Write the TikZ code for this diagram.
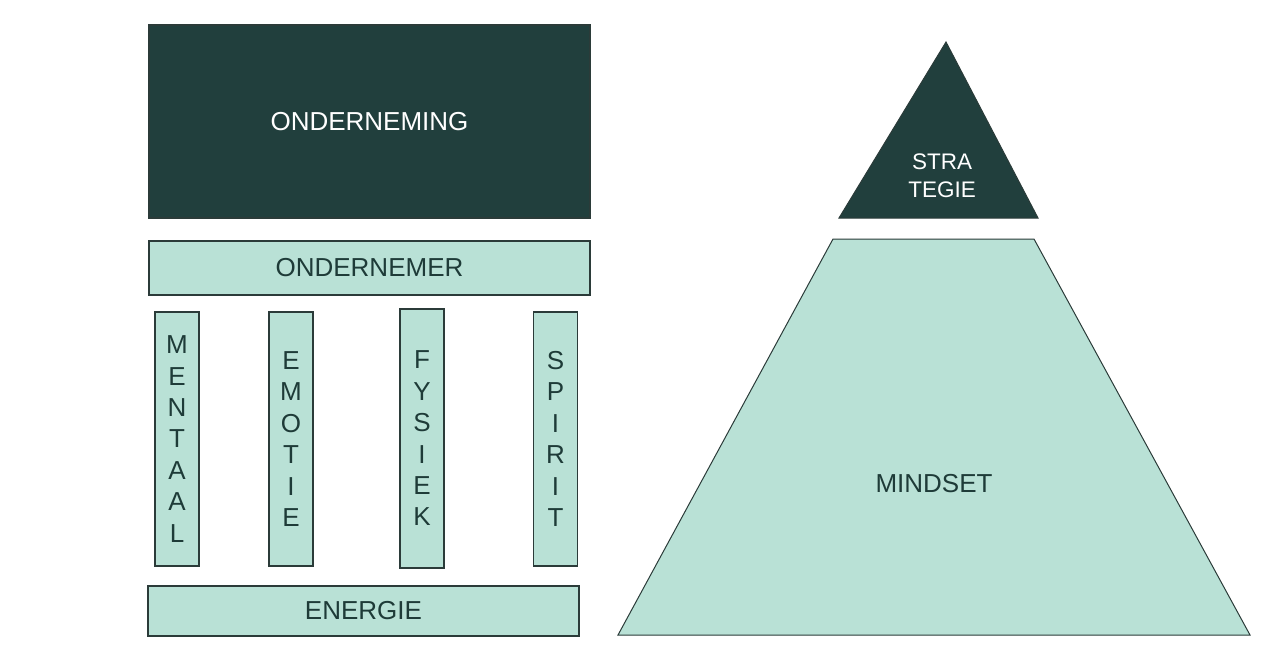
\documentclass[tikz,border=0pt]{standalone}
\usepackage{fontspec}
\setmainfont{Liberation Sans}
\definecolor{donker}{HTML}{213F3D}
\definecolor{mint}{HTML}{B9E1D6}
\definecolor{rand}{HTML}{2B3B39}
\definecolor{tekst}{HTML}{1E3B38}
\tikzset{
  donkerblok/.style={draw=rand,fill=donker,line width=1.2pt,inner sep=0pt,text=white,font=\fontsize{26}{31}\selectfont},
  mintblok/.style={draw=rand,fill=mint,line width=1.2pt,inner sep=0pt,text=tekst,font=\fontsize{26}{31}\selectfont},
  pilaar/.style={mintblok,minimum width=44pt,align=center,font=\fontsize{26}{31.4}\selectfont}
}
\begin{document}
\begin{tikzpicture}[x=1pt,y=-1pt]
\useasboundingbox (0,0) rectangle (1276,670);
% linkerkant: huis
\node[donkerblok,minimum width=441pt,minimum height=193pt] (onderneming) at (369.5,121.5) {ONDERNEMING};
\node[mintblok,minimum width=441pt,minimum height=54pt] (ondernemer) at (369.5,268) {ONDERNEMER};
\foreach \naam/\x/\y/\h/\woord in {mentaal/177/439/254/{M\\E\\N\\T\\A\\A\\L},
    emotie/291/439/254/{E\\M\\O\\T\\I\\E},
    fysiek/422/438.5/259/{F\\Y\\S\\I\\E\\K},
    spirit/555.5/439/254/{S\\P\\I\\R\\I\\T}}
	\node[pilaar,minimum height=\h pt] (\naam) at (\x,\y) {\woord};
\node[mintblok,minimum width=431pt,minimum height=50pt] (energie) at (363.5,611) {ENERGIE};
% rechterkant: piramide
\coordinate[] (T) at (946,42);
\coordinate[] (A) at (839,218);
\coordinate[] (B) at (1038,218);
\coordinate[] (C) at (833,239);
\coordinate[] (D) at (1034,239);
\coordinate[] (E) at (1250,635);
\coordinate[] (F) at (618,635);
\draw [fill=donker,draw=rand,line width=1pt] (A) -- (T) -- (B) -- cycle;
\draw [fill=mint,draw=rand,line width=1pt] (C) -- (D) -- (E) -- (F) -- cycle;
\node[text=white,align=center,font=\fontsize{22.5}{28}\selectfont] (strategie) at (942,176) {STRA\\TEGIE};
\node[text=tekst,font=\fontsize{26}{31}\selectfont] (mindset) at (934,484) {MINDSET};
\end{tikzpicture}
\end{document}
